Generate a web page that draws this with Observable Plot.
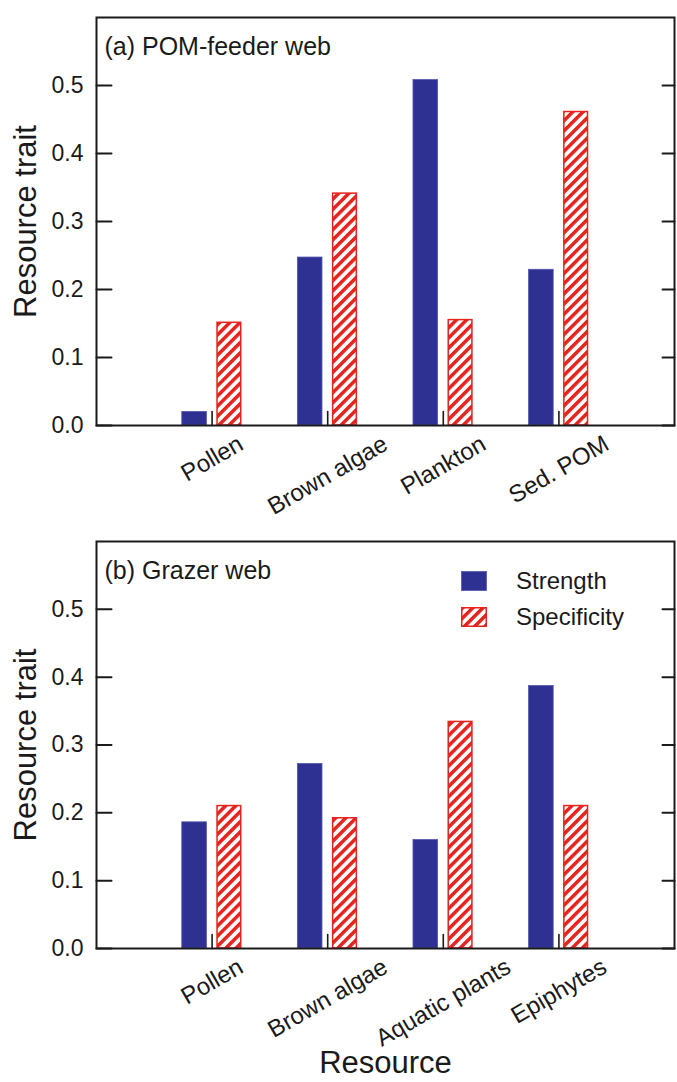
<!DOCTYPE html>
<html><head><meta charset="utf-8">
<script src="https://cdn.jsdelivr.net/npm/d3@7"></script>
<script src="https://cdn.jsdelivr.net/npm/@observablehq/plot@0.6"></script>
<style>
body{margin:0;background:#fff;font-family:"Liberation Sans",Arial,Helvetica,sans-serif;}
#wrap{width:677px;}
.panel{position:relative;width:677px;}
.panel svg{display:block;}
.legend{position:absolute;left:461px;top:33px;font-size:24px;color:#1a1a1a;}
.legend .row{display:flex;align-items:center;height:36px;}
.legend .row svg{margin-right:29px;}
</style>
</head><body>
<svg width="0" height="0" style="position:absolute">
  <defs>
    <pattern id="hatch" patternUnits="userSpaceOnUse" width="7.2" height="7.2" patternTransform="rotate(45)">
      <rect x="0" y="0" width="7.2" height="7.2" fill="#ffffff"></rect>
      <rect x="0" y="0" width="3.5" height="7.2" fill="#e5231f"></rect>
    </pattern>
  </defs>
</svg>
<div id="wrap"></div>
<script>
// ---- data ----
const categoriesA = ["Pollen", "Brown algae", "Plankton", "Sed. POM"];
const strengthA = [0.020, 0.247, 0.508, 0.229];
const specificityA = [0.151, 0.341, 0.155, 0.461];
const categoriesB = ["Pollen", "Brown algae", "Aquatic plants", "Epiphytes"];
const strengthB = [0.186, 0.272, 0.160, 0.387];
const specificityB = [0.210, 0.192, 0.334, 0.210];
const yTicks = [0.0, 0.1, 0.2, 0.3, 0.4, 0.5];
const seriesNames = ["Strength", "Specificity"];
const panelTitles = ["(a) POM-feeder web", "(b) Grazer web"];
const yLabel = "Resource trait";
const xLabel = "Resource";

// ---- styles ----
const BLUE = "#2e3192";
const RED = "#e5231f";
const INK = "#1a1a1a";
const FONT = '"Liberation Sans", Arial, Helvetica, sans-serif';
const catFont = 24;

const canvas = document.createElement("canvas");
const ctx = canvas.getContext("2d");
ctx.font = `${catFont}px "Liberation Sans"`;
const textW = s => ctx.measureText(s).width;

const lineShape = {draw(context, l) { context.moveTo(0, 0); context.lineTo(0, -l); }};

function panel(cats, strength, spec, title, opts) {
  const rows = [];
  cats.forEach((c, i) => {
    rows.push({pos: i + 1, series: seriesNames[0], value: strength[i]});
    rows.push({pos: i + 1, series: seriesNames[1], value: spec[i]});
  });
  const pos = cats.map((c, i) => i + 1);
  const labelMarks = cats.map((c, i) => Plot.text([c], {
    x: () => i + 1, frameAnchor: "bottom", text: d => d,
    rotate: -30, textAnchor: "middle", lineAnchor: "middle",
    dy: 9 + textW(c) / 4 + 0.31 * catFont, fontSize: catFont, fill: INK
  }));
  const marks = [
    Plot.rectY(rows.filter(d => d.series === seriesNames[0]), {
      x1: d => d.pos - 0.258, x2: d => d.pos - 0.045, y: "value",
      fill: BLUE, stroke: "#5558ad", strokeWidth: 0.8, inset: 0
    }),
    Plot.rectY(rows.filter(d => d.series === seriesNames[1]), {
      x1: d => d.pos + 0.047, x2: d => d.pos + 0.252, y: "value",
      fill: "url(#hatch)", stroke: RED, strokeWidth: 1.5, inset: 0
    }),
    Plot.frame({stroke: INK, strokeWidth: 2}),
    Plot.vector(pos, {x: d => d, y: 0, length: 14, rotate: 0, anchor: "start", shape: lineShape, stroke: INK, strokeWidth: 1.6}),
    Plot.vector(yTicks, {x: 0, y: d => d, length: 15, rotate: 90, anchor: "start", shape: lineShape, stroke: INK, strokeWidth: 2}),
    Plot.vector(yTicks, {x: 5, y: d => d, length: 12, rotate: -90, anchor: "start", shape: lineShape, stroke: INK, strokeWidth: 2}),
    Plot.axisY(yTicks, {tickSize: 0, tickPadding: 13, tickFormat: d3.format(".1f"), fontSize: 23, fill: INK, label: null}),
    Plot.text([title], {frameAnchor: "top-left", text: d => d, textAnchor: "start", lineAnchor: "middle", dx: 8, dy: 29, fontSize: 25, fill: INK}),
    Plot.text([yLabel], {frameAnchor: "left", text: d => d, rotate: -90, textAnchor: "middle", lineAnchor: "middle", dx: -70, fontSize: 31, fill: INK}),
    ...labelMarks
  ];
  if (opts.xTitle) {
    marks.push(Plot.text([xLabel], {frameAnchor: "bottom", text: d => d, textAnchor: "middle", lineAnchor: "middle", dy: 115, fontSize: 31, fill: INK}));
  }
  return Plot.plot({
    width: 677,
    height: opts.height,
    marginTop: opts.marginTop,
    marginBottom: opts.marginBottom,
    marginLeft: 96,
    marginRight: 3,
    x: {domain: [0, cats.length + 1], axis: null},
    y: {domain: [0, 0.6]},
    style: {fontFamily: FONT, background: "#fff", overflow: "visible", color: INK},
    marks
  });
}

const wrap = document.getElementById("wrap");
const pA = document.createElement("div"); pA.className = "panel";
pA.appendChild(panel(categoriesA, strengthA, specificityA, panelTitles[0], {height: 530, marginTop: 17, marginBottom: 105}));
wrap.appendChild(pA);

const pB = document.createElement("div"); pB.className = "panel";
pB.appendChild(panel(categoriesB, strengthB, specificityB, panelTitles[1], {height: 552, marginTop: 11, marginBottom: 134, xTitle: true}));
const legend = document.createElement("div"); legend.className = "legend";
seriesNames.forEach((name, i) => {
  const row = document.createElement("div"); row.className = "row";
  const sw = i === 0
    ? `<svg width="26" height="20"><rect x="0.5" y="0.5" width="25" height="19" fill="${BLUE}" stroke="#5558ad" stroke-width="0.8"/></svg>`
    : `<svg width="26" height="20"><rect x="0.75" y="0.75" width="24.5" height="18.5" fill="url(#hatch)" stroke="${RED}" stroke-width="1.5"/></svg>`;
  row.innerHTML = sw + `<span>${name}</span>`;
  legend.appendChild(row);
});
pB.appendChild(legend);
wrap.appendChild(pB);
</script>
</body></html>
